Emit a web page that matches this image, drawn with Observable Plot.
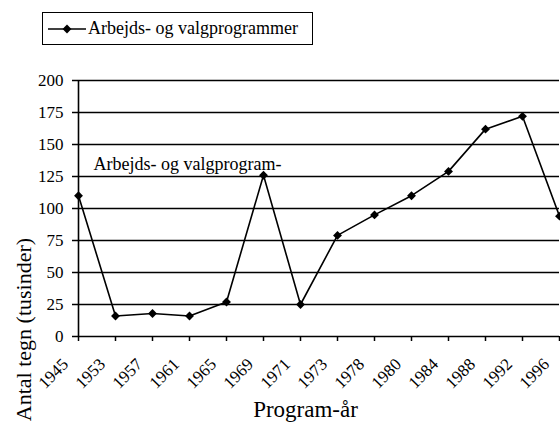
<!DOCTYPE html>
<html>
<head>
<meta charset="utf-8">
<script src="https://cdn.jsdelivr.net/npm/d3@7"></script>
<script src="https://cdn.jsdelivr.net/npm/@observablehq/plot@0.6"></script>
<style>
  body { margin: 0; background: #fff; }
  #wrap { position: relative; width: 560px; height: 425px; overflow: hidden;
          font-family: "Liberation Serif", "Times New Roman", Times, serif; color: #000; }
  #chart svg { display: block; }
  #chart svg text { font-family: "Liberation Serif", "Times New Roman", Times, serif; }
  #legend { position: absolute; left: 42px; top: 12px; width: 269px; height: 31px;
            border: 1.5px solid #000; background: #fff; display: flex; align-items: center;
            font-family: "Liberation Serif", "Times New Roman", Times, serif;
            font-size: 18px; white-space: nowrap; }
  #legend svg { margin-left: 5px; margin-right: 2px; display: block; }
</style>
</head>
<body>
<div id="wrap">
  <div id="chart"></div>
  <div id="legend"></div>
</div>
<script>
// ---- data ----
const years = ["1945","1953","1957","1961","1965","1969","1971","1973","1978","1980","1984","1988","1992","1996"];
const values = [110, 16, 18, 16, 27, 126, 25, 79, 95, 110, 129, 162, 172, 94];
const yTicks = [0, 25, 50, 75, 100, 125, 150, 175, 200];
const gridValues = [25, 50, 75, 100, 125, 150, 175, 200];
const seriesName = "Arbejds- og valgprogrammer";
const annotationText = "Arbejds- og valgprogram-";
const yTitle = "Antal tegn (tusinder)";
const xTitle = "Program-år";

const data = years.map((year, i) => ({year, value: values[i]}));
const font = "Liberation Serif, Times New Roman, Times, serif";

const chart = Plot.plot({
  width: 560,
  height: 425,
  marginLeft: 77,
  marginRight: 1,
  marginTop: 80,
  marginBottom: 89,
  style: {fontFamily: font, fontSize: "17px", background: "transparent", color: "#000", overflow: "visible"},
  x: {type: "point", domain: years, padding: 0},
  y: {domain: [0, 200]},
  marks: [
    Plot.ruleY(gridValues, {stroke: "#000", strokeWidth: 1.6}),
    Plot.ruleY([0], {stroke: "#000", strokeWidth: 1.6}),
    Plot.ruleX([years[0]], {stroke: "#000", strokeWidth: 1.6}),
    Plot.axisY({ticks: yTicks, tickSize: 5, tickPadding: 9, label: null, strokeWidth: 1.5,
      fontSize: 17, fontFamily: font}),
    // x tick marks only
    Plot.axisX({tickSize: 5, tickFormat: () => "", label: null, strokeWidth: 1.5}),
    // x tick labels, rotated
    Plot.text(years, {x: (d) => d, frameAnchor: "bottom", rotate: -45, textAnchor: "end",
      lineAnchor: "middle", dx: -13, dy: 25, fontSize: 17, fontFamily: font, fill: "#000"}),
    Plot.line(data, {x: "year", y: "value", stroke: "#000", strokeWidth: 1.6}),
    Plot.dot(data, {x: "year", y: "value", symbol: "diamond2", r: 4, fill: "#000", stroke: "none"}),
    Plot.text([annotationText], {x: () => years[0], y: () => 125, dx: 15, dy: -7,
      textAnchor: "start", lineAnchor: "bottom", fontSize: 18, fontFamily: font, fill: "#000"}),
    Plot.text([yTitle], {frameAnchor: "left", rotate: -90, dx: -47, dy: 121,
      textAnchor: "middle", lineAnchor: "bottom", fontSize: 22, fontFamily: font, fill: "#000"}),
    Plot.text([xTitle], {frameAnchor: "bottom", dx: -13, dy: 80,
      textAnchor: "middle", lineAnchor: "bottom", fontSize: 23, fontFamily: font, fill: "#000"})
  ]
});
document.getElementById("chart").append(chart);

// legend
const legend = document.getElementById("legend");
const sw = d3.create("svg").attr("width", 38).attr("height", 12);
sw.append("line").attr("x1", 0).attr("x2", 38).attr("y1", 6).attr("y2", 6)
  .attr("stroke", "#000").attr("stroke-width", 1.5);
sw.append("path").attr("d", d3.symbol(d3.symbolDiamond2, Math.PI * 16)())
  .attr("transform", "translate(19,6)").attr("fill", "#000");
legend.append(sw.node());
const span = document.createElement("span");
span.textContent = seriesName;
legend.append(span);
</script>
</body>
</html>
